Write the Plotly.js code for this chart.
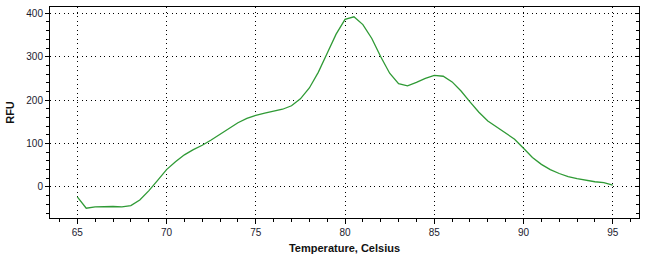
<!DOCTYPE html>
<html>
<head>
<meta charset="utf-8">
<script src="https://cdn.plot.ly/plotly-3.0.1.min.js"></script>
<style>html,body{margin:0;padding:0;background:#fff;}#chart{width:653px;height:260px;}</style>
</head>
<body>
<div id="chart"></div>
<script>
var temperature = [65.0,65.5,66.0,66.5,67.0,67.5,68.0,68.5,69.0,69.5,70.0,70.5,71.0,71.5,72.0,72.5,73.0,73.5,74.0,74.5,75.0,75.5,76.0,76.5,77.0,77.5,78.0,78.5,79.0,79.5,80.0,80.5,81.0,81.5,82.0,82.5,83.0,83.5,84.0,84.5,85.0,85.5,86.0,86.5,87.0,87.5,88.0,88.5,89.0,89.5,90.0,90.5,91.0,91.5,92.0,92.5,93.0,93.5,94.0,94.5,95.0];
var rfu = [-23,-49,-46,-45,-45,-46,-43,-30,-9,15,40,58,74,86,96,108,121,135,148,158,165,170,174,179,187,203,228,264,308,352,386,392,374,342,300,262,238,233,241,250,257,255,242,221,196,172,152,138,125,110,89,68,52,40,31,24,19,15,12,10,4];
var xTicks = [65,70,75,80,85,90,95];
var yTicks = [0,100,200,300,400];

var font = {family: "Liberation Sans, Arial, sans-serif", size: 10, color: "#1a1a2e"};
var traces = [
  {x: temperature, y: rfu, type: "scatter", mode: "lines",
   line: {color: "#2f9a35", width: 1.3}, hoverinfo: "skip", showlegend: false},
  {x: [], y: [], yaxis: "y2", type: "scatter", mode: "lines", showlegend: false}
];
var layout = {
  width: 653, height: 260,
  margin: {l: 50, r: 14, t: 7, b: 42},
  paper_bgcolor: "#ffffff", plot_bgcolor: "#ffffff",
  font: font,
  showlegend: false,
  xaxis: {
    range: [63.47, 96.47], tickvals: xTicks, ticktext: xTicks.map(String),
    showline: true, linecolor: "#000", linewidth: 1, mirror: true,
    ticks: "outside", ticklen: 5, tickcolor: "#000", tickwidth: 1,
    showgrid: true, gridcolor: "#000", gridwidth: 1, griddash: "1px,3.5px",
    minor: {dtick: 1, tick0: 0, ticks: "outside", ticklen: 3, tickcolor: "#000", showgrid: false},
    zeroline: false,
    title: {text: "Temperature, Celsius", font: {family: "Liberation Sans, Arial, sans-serif", size: 11, color: "#111", weight: "bold"}, standoff: 7},
    tickfont: font
  },
  yaxis: {
    range: [-71.5, 414.5], tickvals: yTicks, ticktext: yTicks.map(String),
    showline: true, linecolor: "#000", linewidth: 1, mirror: true,
    ticks: "outside", ticklen: 4, tickcolor: "#000", tickwidth: 1,
    showgrid: true, gridcolor: "#000", gridwidth: 1, griddash: "1px,3.5px",
    minor: {dtick: 20, tick0: 0, ticks: "outside", ticklen: 3, tickcolor: "#000", showgrid: false},
    zeroline: false,
    title: {text: "RFU", font: {family: "Liberation Sans, Arial, sans-serif", size: 11, color: "#111", weight: "bold"}, standoff: 9},
    tickfont: font
  },
  yaxis2: {
    overlaying: "y", side: "right", anchor: "x",
    range: [-71.5, 414.5], tickvals: yTicks, showticklabels: false,
    ticks: "inside", ticklen: 4, tickcolor: "#000",
    minor: {dtick: 20, tick0: 0, ticks: "inside", ticklen: 3, tickcolor: "#000", showgrid: false},
    showgrid: false, zeroline: false, showline: false
  }
};
Plotly.newPlot("chart", traces, layout, {displayModeBar: false, staticPlot: true});
</script>
</body>
</html>
